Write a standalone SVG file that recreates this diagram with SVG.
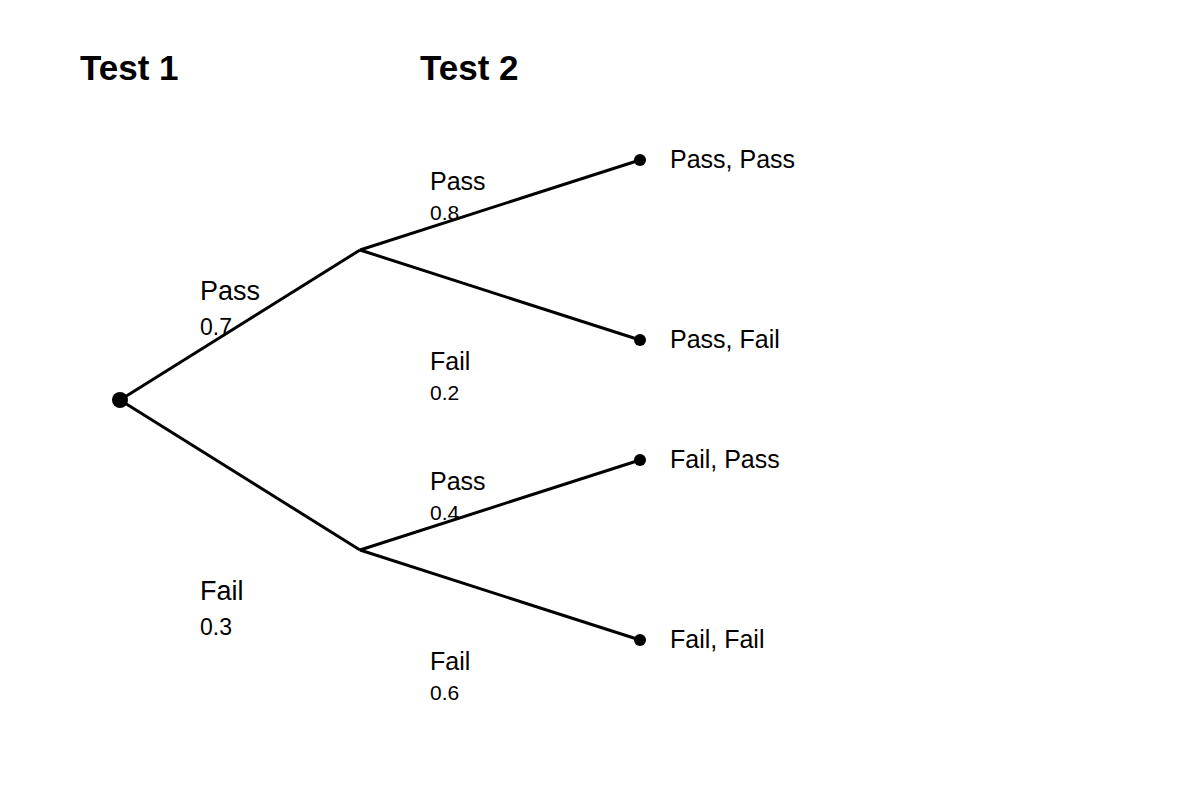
<svg xmlns="http://www.w3.org/2000/svg" width="1200" height="800" viewBox="0 0 1200 800">
<style>
text{font-family:"Liberation Sans",Arial,sans-serif;fill:#000}
.h{font-size:35px;font-weight:bold}
.l1{font-size:27px}.p1{font-size:23px}
.l2{font-size:25px}.p2{font-size:21px}
.lf{font-size:25px}
line{stroke:#000;stroke-width:3}
</style>
<rect width="1200" height="800" fill="#fff"/>
<text class="h" x="80" y="80">Test 1</text>
<text class="h" x="420" y="80">Test 2</text>
<g id="connectors">
<line x1="120" y1="400" x2="360" y2="250"/>
<line x1="120" y1="400" x2="360" y2="550"/>
<line x1="360" y1="250" x2="640" y2="160"/>
<line x1="360" y1="250" x2="640" y2="340"/>
<line x1="360" y1="550" x2="640" y2="460"/>
<line x1="360" y1="550" x2="640" y2="640"/>
</g>
<g id="root"><circle cx="120" cy="400" r="8"/></g>
<g id="labels1">
<text class="l1" x="200" y="300">Pass</text><text class="p1" x="200" y="335">0.7</text>
<text class="l1" x="200" y="600">Fail</text><text class="p1" x="200" y="635">0.3</text>
</g>
<g id="labels2">
<text class="l2" x="430" y="190">Pass</text><text class="p2" x="430" y="220">0.8</text>
<text class="l2" x="430" y="370">Fail</text><text class="p2" x="430" y="400">0.2</text>
<text class="l2" x="430" y="490">Pass</text><text class="p2" x="430" y="520">0.4</text>
<text class="l2" x="430" y="670">Fail</text><text class="p2" x="430" y="700">0.6</text>
</g>
<g id="leaf1"><circle cx="640" cy="160" r="6"/><text class="lf" x="670" y="168">Pass, Pass</text></g>
<g id="leaf2"><circle cx="640" cy="340" r="6"/><text class="lf" x="670" y="348">Pass, Fail</text></g>
<g id="leaf3"><circle cx="640" cy="460" r="6"/><text class="lf" x="670" y="468">Fail, Pass</text></g>
<g id="leaf4"><circle cx="640" cy="640" r="6"/><text class="lf" x="670" y="648">Fail, Fail</text></g>
</svg>
